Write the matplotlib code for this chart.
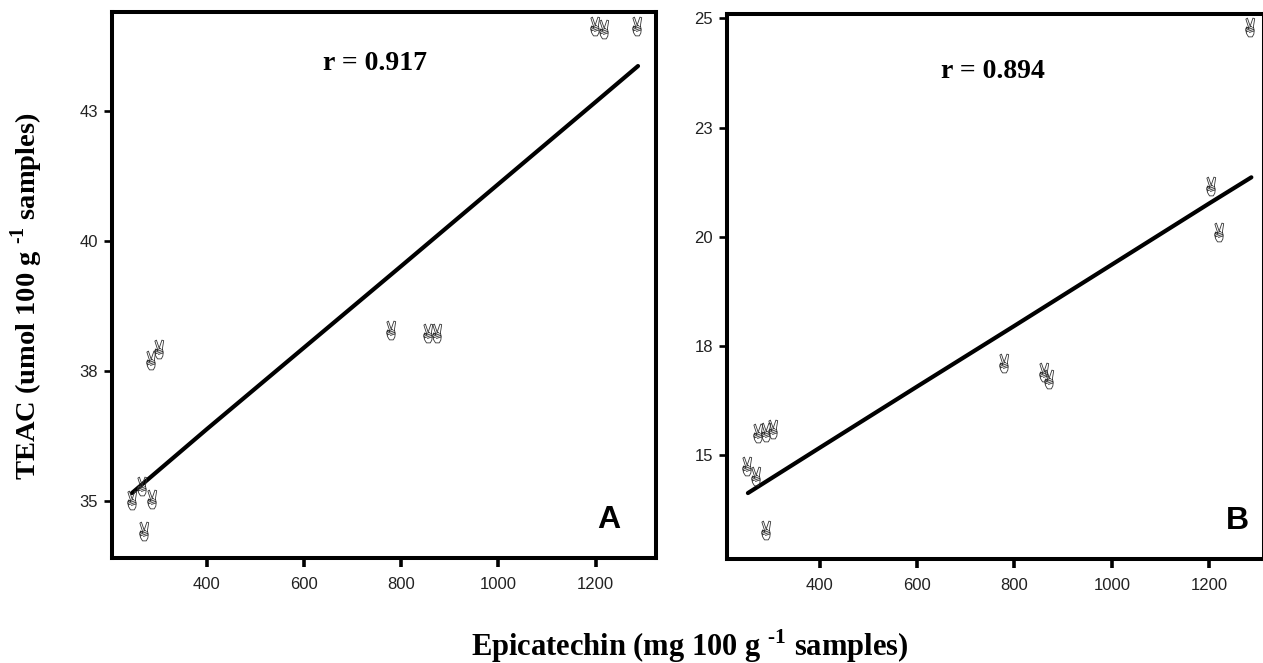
#Two panels of TEAC against epicatechin, hand marks for the points and a fit line

import matplotlib
matplotlib.use("Agg")
import matplotlib.pyplot as plt
from matplotlib.path import Path

plt.rcParams['mathtext.fontset'] = 'custom'
plt.rcParams['mathtext.rm'] = 'Liberation Serif:bold'
plt.rcParams['mathtext.bf'] = 'Liberation Serif:bold'

xTicks = [400, 600, 800, 1000, 1200]
xTickLabels = ['400', '600', '800', '1000', '1200']

# panel A
xA = [246, 267, 287, 271, 285, 302, 779, 855, 874, 1199, 1217, 1285]
yA = [35.02, 35.29, 35.04, 34.42, 37.71, 37.92, 38.29, 38.23, 38.23, 44.15, 44.08, 44.15]
lineXA = [246, 400, 600, 800, 1000, 1200, 1287]
lineYA = [35.15, 36.38, 37.95, 39.52, 41.1, 42.68, 43.37]
yTicksA = [35, 37.5, 40, 42.5]
yTickLabelsA = ['35', '38', '40', '43']

# panel B
xB = [1285, 1205, 1221, 779, 861, 871, 250, 268, 272, 289, 303, 289]
yB = [24.8, 21.16, 20.1, 17.1, 16.9, 16.74, 14.75, 14.52, 15.5, 15.53, 15.6, 13.28]
lineXB = [252, 400, 600, 800, 1000, 1200, 1287]
lineYB = [14.13, 15.17, 16.57, 17.96, 19.36, 20.76, 21.36]
yTicksB = [15, 17.5, 20, 22.5, 25]
yTickLabelsB = ['15', '18', '20', '23', '25']

# the victory hand, no installed font has it
M = Path.MOVETO
L = Path.LINETO
handShape = [
    ((-1.4, -1.0), M), ((-4.2, 7.6), L), ((-2.8, 8.5), L), ((-0.3, 1.2), L),
    ((2.2, 8.5), L), ((3.8, 8.0), L), ((2.6, 0.5), L), ((3.4, -2.5), L),
    ((3.0, -6.0), L), ((1.6, -8.5), L), ((-1.8, -8.5), L), ((-3.6, -5.5), L),
    ((-4.4, -2.0), L), ((-3.6, 0.5), L), ((-1.4, -1.0), L),
    ((-4.2, -1.0), M), ((1.4, 1.2), L),
    ((-4.2, -2.6), M), ((2.8, 0.0), L),
    ((-3.8, -4.0), M), ((3.0, -1.6), L),
    ((-1.2, -4.6), M), ((3.2, -3.0), L),
]
handMarker = Path([p[0] for p in handShape], [p[1] for p in handShape])

W = 1263
H = 663
fig = plt.figure(figsize=(W / 100, H / 100), dpi=100)


def panel(left, right, top, bottom, xlim, ylim, x, y, lineX, lineY, yTicks, yLabels):
    ax = fig.add_axes([left / W, 1 - bottom / H, (right - left) / W, (bottom - top) / H])
    ax.plot(lineX, lineY, color='black', linewidth=3.0, solid_capstyle='round')
    ax.plot(x, y, linestyle='none', marker=handMarker, markersize=13.5, markerfacecolor='none',
            markeredgecolor='#333333', markeredgewidth=0.6)
    ax.set_xlim(xlim)
    ax.set_ylim(ylim)
    ax.set_xticks(xTicks, xTickLabels)
    ax.set_yticks(yTicks, yLabels)
    ax.tick_params(axis='x', length=6.5, width=2.6, pad=7, labelsize=12, labelfontfamily='Liberation Sans',
                   labelcolor='#222222')
    ax.tick_params(axis='y', length=5.5, width=1.9, pad=4.5, labelsize=12, labelfontfamily='Liberation Sans',
                   labelcolor='#222222')
    for s in ax.spines.values():
        s.set_linewidth(2.9)
    return ax


axA = panel(112, 656, 12, 558, (205, 1324), (33.9, 44.41), xA, yA, lineXA, lineYA, yTicksA, yTickLabelsA)
axB = panel(727, 1264, 14, 559, (209, 1313), (12.62, 25.1), xB, yB, lineXB, lineYB, yTicksB, yTickLabelsB)

fig.text(375 / W, 1 - 63 / H, 'r = 0.917', family='Liberation Serif', fontweight='bold', fontsize=20,
         ha='center', va='center')
fig.text(993 / W, 1 - 71 / H, 'r = 0.894', family='Liberation Serif', fontweight='bold', fontsize=20,
         ha='center', va='center')
fig.text(609 / W, 1 - 520 / H, 'A', family='Liberation Sans', fontweight='bold', fontsize=23,
         ha='center', va='center')
fig.text(1237 / W, 1 - 521 / H, 'B', family='Liberation Sans', fontweight='bold', fontsize=23,
         ha='center', va='center')

fig.text(690 / W, 1 - 656 / H, r'Epicatechin (mg 100 g $^{\text{-1}}$ samples)', family='Liberation Serif',
         fontweight='bold', fontsize=22, ha='center', va='baseline')
fig.text(27 / W, 1 - 296 / H, r'TEAC (umol 100 g $^{\text{-1}}$ samples)', family='Liberation Serif',
         fontweight='bold', fontsize=20.5, rotation=90, ha='center', va='center')

fig.savefig('out.png', dpi=100)
